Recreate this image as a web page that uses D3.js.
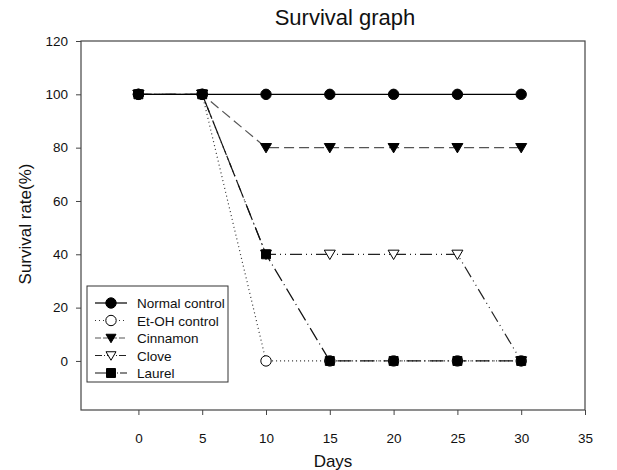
<!DOCTYPE html>
<html><head><meta charset="utf-8">
<script src="https://cdn.jsdelivr.net/npm/d3@7"></script>
<style>body{margin:0;background:#fff;} svg{display:block;font-family:Arial,"Liberation Sans",sans-serif;}</style>
</head><body>
<svg id="c" width="617" height="470"></svg>
<script>
const days = [0, 5, 10, 15, 20, 25, 30];
const normalControl = [100, 100, 100, 100, 100, 100, 100];
const etohControl = [100, 100, 0, 0, 0, 0, 0];
const cinnamon = [100, 100, 80, 80, 80, 80, 80];
const clove = [100, 100, 40, 40, 40, 40, 0];
const laurel = [100, 100, 40, 0, 0, 0, 0];
const xTicks = [0, 5, 10, 15, 20, 25, 30, 35];
const yTicks = [0, 20, 40, 60, 80, 100, 120];
const seriesNames = ["Normal control", "Et-OH control", "Cinnamon", "Clove", "Laurel"];

const series = [
  {name: seriesNames[0], values: normalControl, dash: null, color: "#000", sym: d3.symbolCircle, fill: "#000"},
  {name: seriesNames[1], values: etohControl, dash: "1,3", color: "#333", sym: d3.symbolCircle, fill: "#fff"},
  {name: seriesNames[2], values: cinnamon, dash: "10,5", color: "#555", sym: "tri", fill: "#000"},
  {name: seriesNames[3], values: clove, dash: "12,4,1,4,1,4", color: "#222", sym: "tri", fill: "#fff"},
  {name: seriesNames[4], values: laurel, dash: "14,4,1,4", color: "#111", sym: d3.symbolSquare, fill: "#000"}
];

const svg = d3.select("#c");
const L = 81, R = 585, T = 41, B = 410;
const x = d3.scaleLinear().domain([-4.5, 35]).range([L, R]);
const y = d3.scaleLinear().domain([-18.4, 120]).range([B, T]);

svg.append("rect").attr("x", L).attr("y", T).attr("width", R - L).attr("height", B - T)
  .attr("fill", "none").attr("stroke", "#444").attr("stroke-width", 1.2);

const xAxis = svg.append("g").attr("transform", `translate(0,${B})`)
  .call(d3.axisBottom(x).tickValues(xTicks).tickSize(5).tickPadding(18));
const yAxis = svg.append("g").attr("transform", `translate(${L},0)`)
  .call(d3.axisLeft(y).tickValues(yTicks).tickSize(5).tickPadding(8));
[xAxis, yAxis].forEach(a => {
  a.select(".domain").remove();
  a.selectAll("line").attr("stroke", "#444");
  a.selectAll("text").attr("font-size", 13.5).attr("fill", "#111").attr("font-family", "Arial, 'Liberation Sans', sans-serif");
});

const line = d3.line().x((d, i) => x(days[i])).y(d => y(d));

function symPath(s, size) {
  if (s === "tri") {
    const r = size;
    return `M${-r},${-r * 0.75}L${r},${-r * 0.75}L0,${r * 0.95}Z`;
  }
  return d3.symbol().type(s).size(s === d3.symbolSquare ? 80 : 85)();
}

const drawOrder = [1, 3, 4, 2, 0];
drawOrder.forEach(k => {
  const s = series[k];
  svg.append("path").datum(s.values).attr("d", line).attr("fill", "none")
    .attr("stroke", s.color).attr("stroke-width", 1.2)
    .attr("stroke-dasharray", s.dash);
});
drawOrder.forEach(k => {
  const s = series[k];
  svg.append("g").selectAll("path").data(s.values).join("path")
    .attr("transform", (d, i) => `translate(${x(days[i])},${y(d)})`)
    .attr("d", symPath(s.sym, 5.5))
    .attr("fill", s.fill).attr("stroke", "#000").attr("stroke-width", 1);
});

const lg = svg.append("g");
lg.append("rect").attr("x", 87).attr("y", 286).attr("width", 141).attr("height", 96)
  .attr("fill", "#fff").attr("stroke", "#333").attr("stroke-width", 1);
const legendDash = [null, "1,3", "6,2", "7,2,1,2", "20,2,1,2"];
series.forEach((s, i) => {
  const yy = 303 + i * 17.5;
  lg.append("line").attr("x1", 95).attr("x2", 127).attr("y1", yy).attr("y2", yy)
    .attr("stroke", s.color).attr("stroke-width", 1.2).attr("stroke-dasharray", legendDash[i]);
  lg.append("path").attr("transform", `translate(111,${yy})`).attr("d", symPath(s.sym, 5))
    .attr("fill", s.fill).attr("stroke", "#000").attr("stroke-width", 1);
  lg.append("text").attr("x", 137).attr("y", yy + 5).attr("font-size", 13.5).attr("fill", "#111").text(s.name);
});

svg.append("text").attr("x", 345).attr("y", 25).attr("text-anchor", "middle").attr("font-size", 22).attr("fill", "#111").text("Survival graph");
svg.append("text").attr("x", 333).attr("y", 467).attr("text-anchor", "middle").attr("font-size", 17).attr("fill", "#111").text("Days");
svg.append("text").attr("transform", "translate(31,224) rotate(-90)").attr("text-anchor", "middle").attr("font-size", 17).attr("fill", "#111").text("Survival rate(%)");
</script>
</body></html>
